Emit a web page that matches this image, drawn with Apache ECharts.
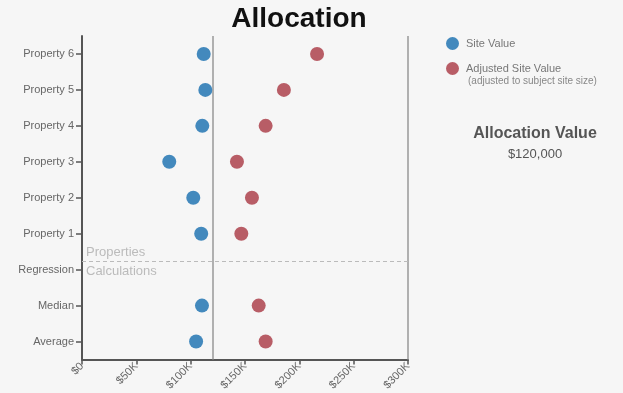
<!DOCTYPE html>
<html>
<head>
<meta charset="utf-8">
<script src="https://cdn.jsdelivr.net/npm/echarts@6/dist/echarts.min.js"></script>
<style>
html,body{margin:0;padding:0;background:#f6f6f6;}
#main{width:623px;height:393px;}
</style>
</head>
<body>
<div id="main"></div>
<script>
// ---- data ----
const categories = ['Property 6','Property 5','Property 4','Property 3','Property 2','Property 1','Regression','Median','Average'];
const siteValue = [112000,113500,110700,80300,102400,109700,null,110400,105000];
const adjustedSiteValue = [216300,185800,169000,142600,156400,146600,null,162600,169000];
const xTickLabels = ['$0','$50K','$100K','$150K','$200K','$250K','$300K'];
const allocationValue = 120000;
const separatorPosition = 5.78; // between Property 1 and Regression, in category-index units
const seriesNames = ['Site Value','Adjusted Site Value'];

const chart = echarts.init(document.getElementById('main'), null, {renderer:'canvas'});
const font = 'Helvetica, Arial, "Liberation Sans", sans-serif';

const option = {
  backgroundColor: '#f6f6f6',
  animation: false,
  textStyle: {fontFamily: font},
  title: [
    {text: 'Allocation', left: 294, top: 0, textAlign: 'center',
     textStyle: {fontSize: 28, fontWeight: 'bold', color: '#111', fontFamily: font}},
    {text: 'Allocation Value', subtext: '$' + allocationValue.toLocaleString('en-US'),
     left: 530, top: 121, textAlign: 'center', itemGap: 6,
     textStyle: {fontSize: 16, fontWeight: 'bold', color: '#555', fontFamily: font},
     subtextStyle: {fontSize: 13, color: '#555', fontFamily: font}},
    {text: '(adjusted to subject site size)', left: 463, top: 71,
     textStyle: {fontSize: 10, fontWeight: 'normal', color: '#888', fontFamily: font}}
  ],
  legend: {
    orient: 'vertical', left: 446, top: 37, padding: 0,
    itemWidth: 13, itemHeight: 13, itemGap: 12,
    icon: 'circle',
    data: seriesNames,
    textStyle: {fontSize: 11, color: '#777', fontFamily: font, padding: [0,0,0,2]}
  },
  grid: {left: 82, right: 215, top: 36, bottom: 32, containLabel: false},
  xAxis: {
    type: 'value', min: 0, max: 300000, interval: 50000, position: 'bottom',
    axisLine: {show: true, onZero: false, lineStyle: {color: '#555', width: 2}},
    axisTick: {show: true, length: 5, lineStyle: {color: '#555', width: 1.5}},
    splitLine: {show: false},
    axisLabel: {
      rotate: 45, fontSize: 11, color: '#666', margin: 5,
      formatter: v => xTickLabels[Math.round(v / 50000)]
    }
  },
  yAxis: [
    {
      type: 'category', data: categories, inverse: true,
      axisLine: {show: true, onZero: false, lineStyle: {color: '#555', width: 2}},
      axisTick: {show: true, length: 6, alignWithLabel: true, lineStyle: {color: '#555', width: 1.5}},
      axisLabel: {fontSize: 11, color: '#666', margin: 8},
      splitLine: {show: false}
    },
    {
      type: 'value', min: -0.5, max: 8.5, inverse: true, show: false
    }
  ],
  series: [
    {
      name: seriesNames[0], type: 'scatter', data: siteValue, symbolSize: 14,
      itemStyle: {color: '#4389bd', opacity: 1},
      z: 5,
      markLine: {
        silent: true, symbol: 'none',
        label: {show: false},
        lineStyle: {color: '#999', type: 'solid', width: 1.5},
        data: [{xAxis: allocationValue}, {xAxis: 300000}]
      }
    },
    {
      name: seriesNames[1], type: 'scatter', data: adjustedSiteValue, symbolSize: 14,
      itemStyle: {color: '#b85d66', opacity: 1},
      z: 5
    },
    {
      name: 'separator', type: 'scatter', yAxisIndex: 1, data: [],
      markLine: {
        silent: true, symbol: 'none',
        lineStyle: {color: '#bbb', type: [4, 3], width: 1},
        data: [
          {yAxis: separatorPosition, label: {show: true, position: 'insideStartTop', formatter: 'Properties', color: '#bbb', fontSize: 13, distance: [4, 3]}},
          {yAxis: separatorPosition, label: {show: true, position: 'insideStartBottom', formatter: 'Calculations', color: '#bbb', fontSize: 13, distance: [4, 3]}}
        ]
      }
    }
  ]
};
chart.setOption(option);
</script>
</body>
</html>
